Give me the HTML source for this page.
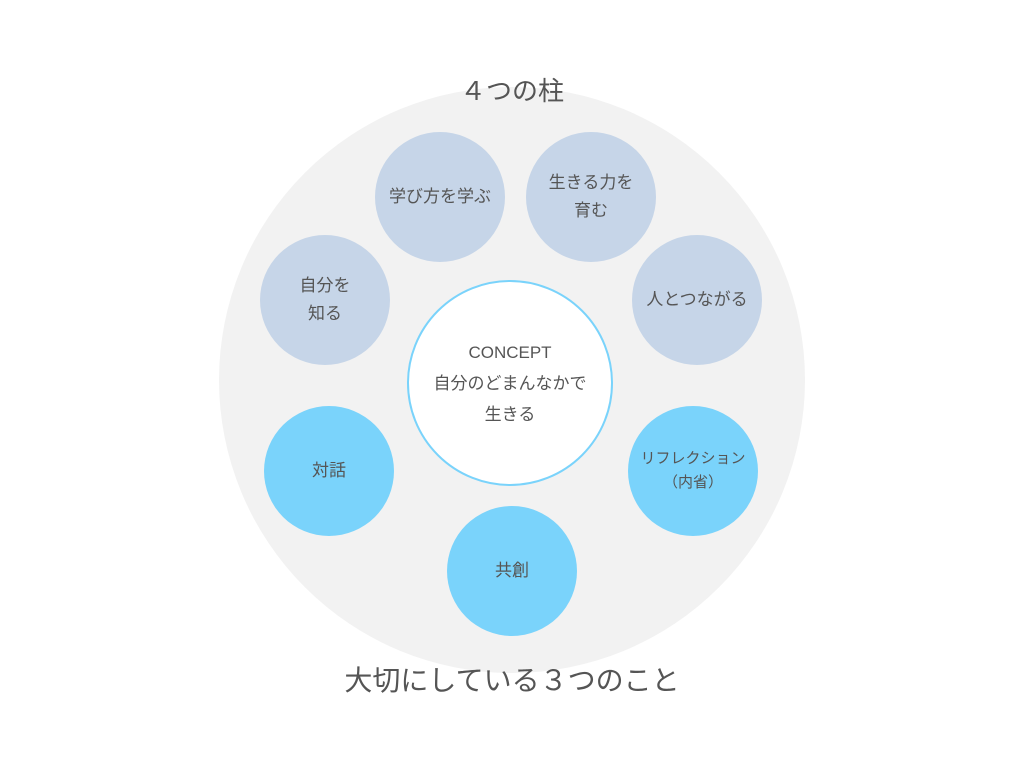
<!DOCTYPE html>
<html><head><meta charset="utf-8"><style>
body{margin:0;width:1024px;height:768px;background:#fff;overflow:hidden;font-family:"Liberation Sans","Noto Sans CJK JP",sans-serif;color:#555}
.c{position:absolute;border-radius:50%;display:flex;align-items:center;justify-content:center;text-align:center;font-size:17px;line-height:28px;color:#555}
.p{width:130px;height:130px;background:#c6d5e8}
.b{width:130px;height:130px;background:#7ad3fb}
.t{position:absolute;left:0;width:1024px;text-align:center;font-size:26px;color:#555}
</style></head><body>
<div class="c" style="left:219px;top:87px;width:586px;height:586px;background:#f2f2f2"></div>
<div class="t" style="top:71px">４つの柱</div>
<div class="t" style="top:659px;font-size:28px">大切にしている３つのこと</div>
<div class="c p" style="left:375px;top:132px">学び方を学ぶ</div>
<div class="c p" style="left:526px;top:132px">生きる力を<br>育む</div>
<div class="c p" style="left:260px;top:235px">自分を<br>知る</div>
<div class="c p" style="left:632px;top:235px">人とつながる</div>
<div class="c b" style="left:264px;top:406px">対話</div>
<div class="c b" style="left:628px;top:406px;font-size:15px;line-height:24px">リフレクション<br>（内省）</div>
<div class="c b" style="left:447px;top:506px">共創</div>
<div class="c" style="left:407px;top:280px;width:206px;height:206px;background:#fff;border:2px solid #7ad3fb;box-sizing:border-box;font-size:17px;line-height:31px">CONCEPT<br>自分のどまんなかで<br>生きる</div>
</body></html>
